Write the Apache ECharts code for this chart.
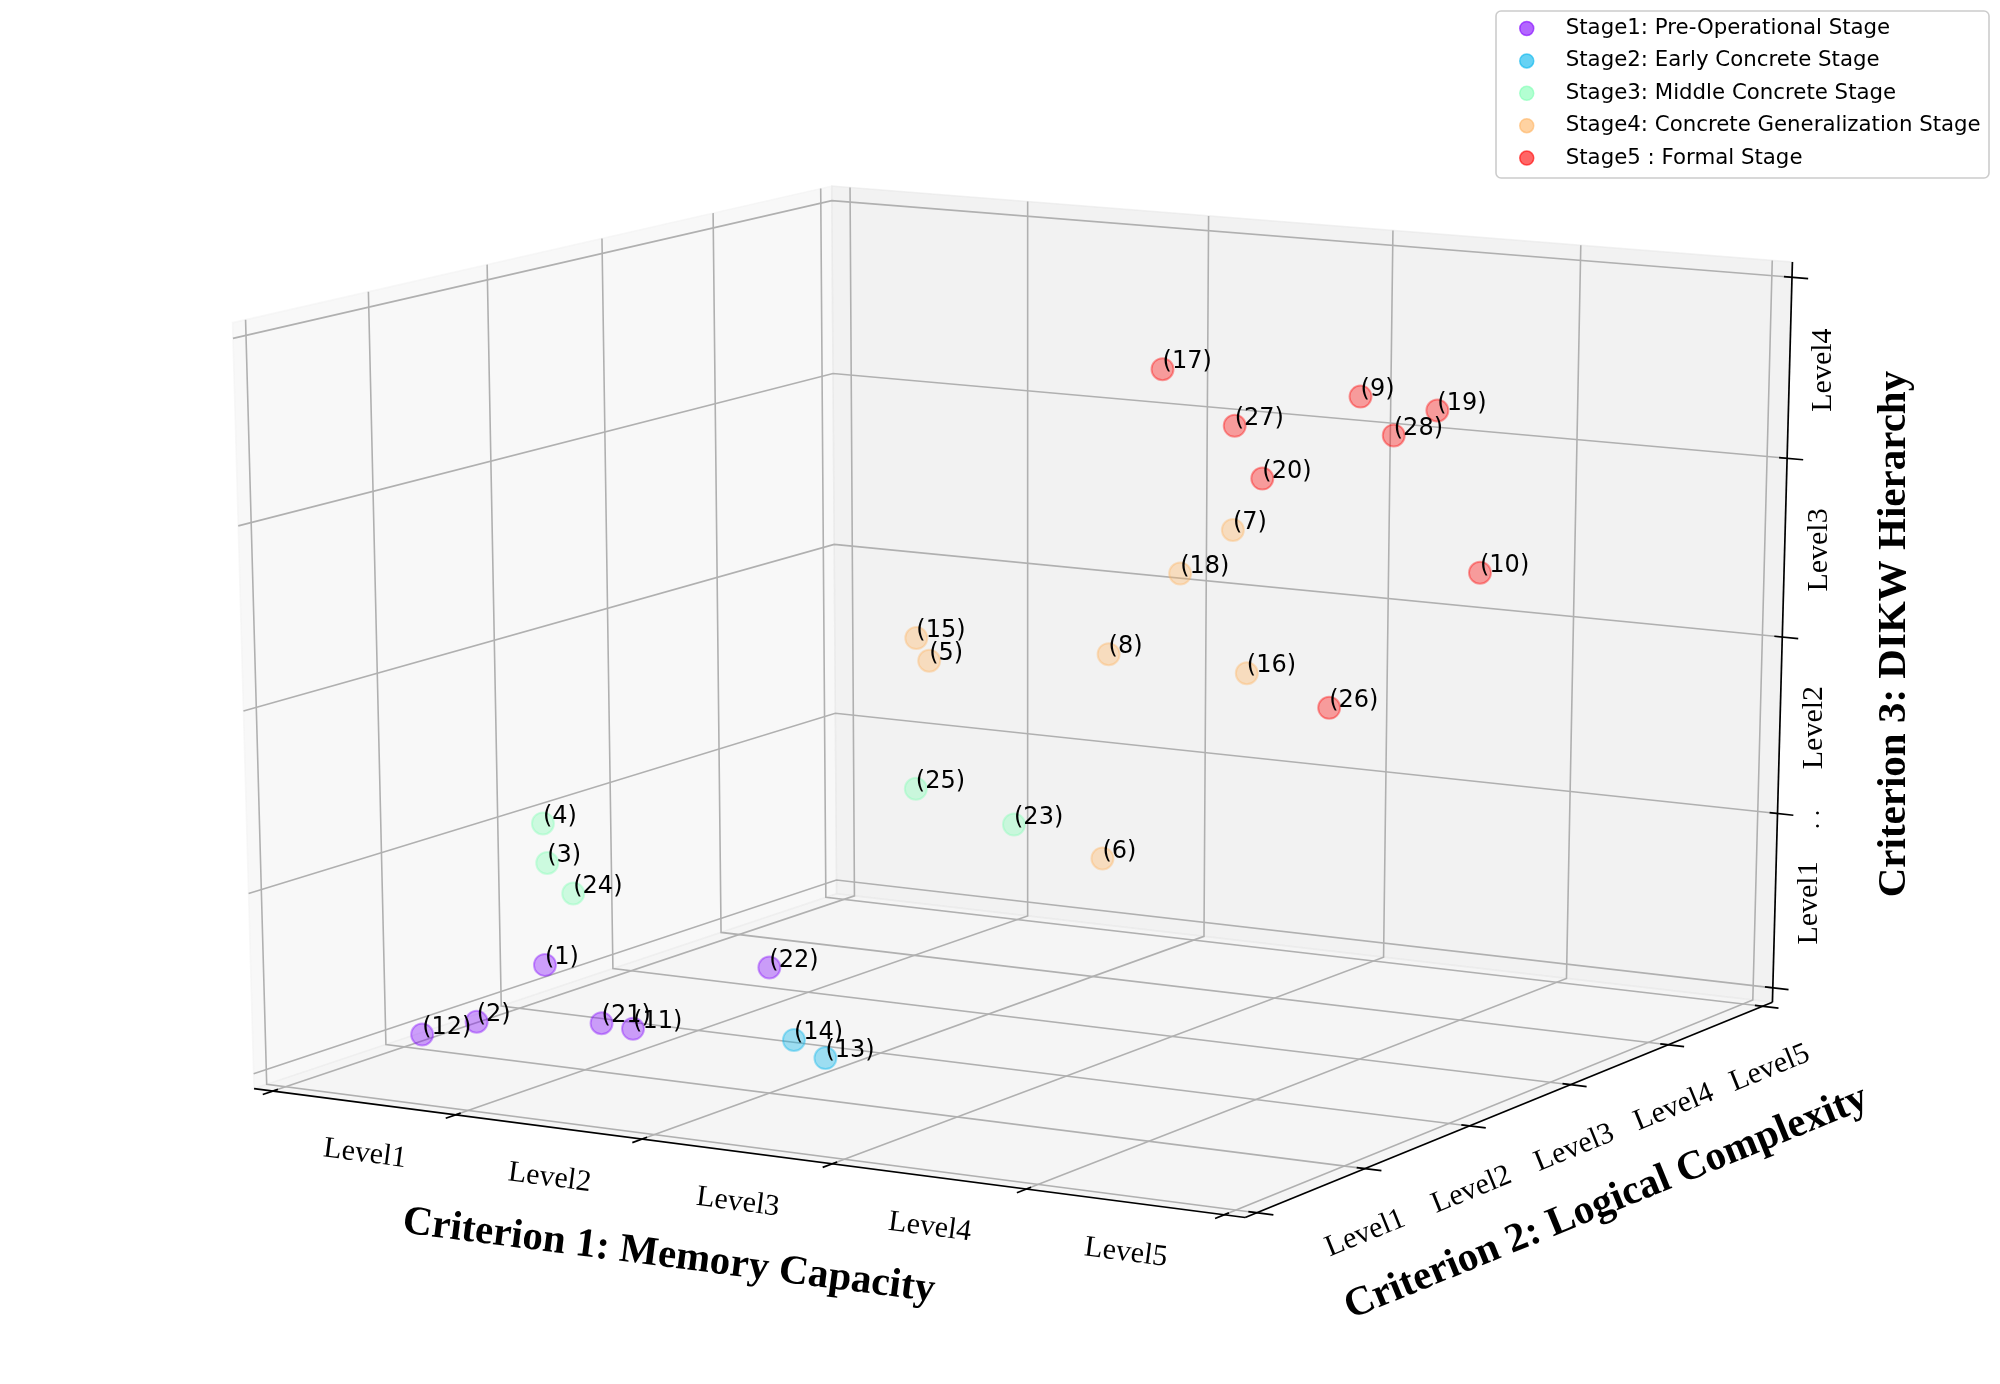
<!DOCTYPE html>
<html>
<head>
<meta charset="utf-8">
<script src="https://cdn.jsdelivr.net/npm/echarts/dist/echarts.min.js"></script>
<style>
  html, body { margin: 0; padding: 0; background: #fff; }
  #chart { width: 2000px; height: 1384px; }
</style>
</head>
<body>
<div id="chart"></div>
<script>
'use strict';

// tick labels and tick values of the three criteria
const memoryLevels = ['Level1', 'Level2', 'Level3', 'Level4', 'Level5'];
const logicLevels = ['Level1', 'Level2', 'Level3', 'Level4', 'Level5'];
const dikwLevels = ['Level1', 'Level2', 'Level3', 'Level4'];
const memoryTicks = [0, 1, 2, 3, 4, 5];
const logicTicks = [0, 1, 2, 3, 4, 5];
const dikwTicks = [0, 1, 2, 3, 4];

const stageNames = [
  'Stage1: Pre-Operational Stage',
  'Stage2: Early Concrete Stage',
  'Stage3: Middle Concrete Stage',
  'Stage4: Concrete Generalization Stage',
  'Stage5 : Formal Stage'
];
const stageColors = ['#8000ff', '#00b4ec', '#80ffb4', '#ffb462', '#ff0000'];

// [memory, logic, dikw, id]
const stage1 = [[0.66, 1.2, 0.42, 1], [0.21, 1.3, 0.02, 2], [0.95, 1.5, 0.03, 11],
                [0.10, 1.0, 0.00, 12], [0.84, 1.4, 0.07, 21], [1.70, 1.5, 0.47, 22]];
const stage2 = [[2.06, 1.4, 0.03, 13], [1.83, 1.5, 0.08, 14]];
const stage3 = [[0.49, 1.5, 0.91, 3], [0.47, 1.5, 1.13, 4], [2.43, 2.5, 1.15, 23],
                [0.44, 1.8, 0.67, 24], [1.90, 2.5, 1.29, 25]];
const stage4 = [[1.68, 3.0, 1.89, 5], [2.62, 3.0, 0.88, 6], [3.03, 3.5, 2.67, 7],
                [2.65, 3.0, 2.03, 8], [1.61, 3.0, 2.01, 15], [3.11, 3.5, 1.88, 16],
                [2.75, 3.5, 2.40, 18]];
const stage5 = [[3.16, 4.5, 3.26, 9], [4.07, 4.0, 2.45, 10], [2.37, 4.0, 3.42, 17],
                [3.57, 4.5, 3.22, 19], [2.91, 4.0, 2.86, 20], [3.28, 4.0, 1.61, 26],
                [2.76, 4.0, 3.14, 27], [3.34, 4.5, 3.06, 28]];
const stages = [stage1, stage2, stage3, stage4, stage5];

// camera like matplotlib mplot3d (elev 15, azim -60, dist 10)
const ELEV = 15, AZIM = -60, DIST = 10;
const LIM = { x: [0, 5], y: [0, 5], z: [0, 4] };
const VIEW_X = [-0.095, 0.09], VIEW_Y = [-0.095, 0.09];

const deg = Math.PI / 180;
const el = ELEV * deg, az = AZIM * deg;
const U = [-Math.sin(az), Math.cos(az), 0];
const V = [-Math.sin(el) * Math.cos(az), -Math.sin(el) * Math.sin(az), Math.cos(el)];
const N = [Math.cos(az) * Math.cos(el), Math.sin(az) * Math.cos(el), Math.sin(el)];

function project(p) {
  const q = [
    (p[0] - LIM.x[0]) / (LIM.x[1] - LIM.x[0]) - 0.5,
    (p[1] - LIM.y[0]) / (LIM.y[1] - LIM.y[0]) - 0.5,
    (p[2] - LIM.z[0]) / (LIM.z[1] - LIM.z[0]) - 0.5
  ];
  const dot = w => w[0] * q[0] + w[1] * q[1] + w[2] * q[2];
  const depth = dot(N);
  return [dot(U) / (DIST - depth), dot(V) / (DIST - depth), depth];
}

// box drawn a bit larger than the limits (range / 48 each side)
const pad = r => (r[1] - r[0]) / 48;
const B = {
  x: [LIM.x[0] - pad(LIM.x), LIM.x[1] + pad(LIM.x)],
  y: [LIM.y[0] - pad(LIM.y), LIM.y[1] + pad(LIM.y)],
  z: [LIM.z[0] - pad(LIM.z), LIM.z[1] + pad(LIM.z)]
};
const dX = (LIM.x[1] - LIM.x[0]) / 12, dY = (LIM.y[1] - LIM.y[0]) / 12;

function rgba(hex, a) {
  const n = parseInt(hex.slice(1), 16);
  return 'rgba(' + (n >> 16) + ',' + ((n >> 8) & 255) + ',' + (n & 255) + ',' + a + ')';
}

// panes
const panes = [
  { pts: [[B.x[0], B.y[0], B.z[0]], [B.x[0], B.y[1], B.z[0]], [B.x[0], B.y[1], B.z[1]], [B.x[0], B.y[0], B.z[1]]], c: 'rgba(242,242,242,0.5)' },
  { pts: [[B.x[0], B.y[1], B.z[0]], [B.x[1], B.y[1], B.z[0]], [B.x[1], B.y[1], B.z[1]], [B.x[0], B.y[1], B.z[1]]], c: 'rgba(230,230,230,0.5)' },
  { pts: [[B.x[0], B.y[0], B.z[0]], [B.x[1], B.y[0], B.z[0]], [B.x[1], B.y[1], B.z[0]], [B.x[0], B.y[1], B.z[0]]], c: 'rgba(236,236,236,0.5)' }
];

// grid lines, axis lines and ticks
const GRID = { stroke: '#b0b0b0', lineWidth: 1.6 };
const AXIS = { stroke: '#000', lineWidth: 1.7 };
const lines = [];
memoryTicks.forEach(t => lines.push({ pts: [[t, B.y[0], B.z[0]], [t, B.y[1], B.z[0]], [t, B.y[1], B.z[1]]], s: GRID }));
logicTicks.forEach(t => lines.push({ pts: [[B.x[0], t, B.z[1]], [B.x[0], t, B.z[0]], [B.x[1], t, B.z[0]]], s: GRID }));
dikwTicks.forEach(t => lines.push({ pts: [[B.x[1], B.y[1], t], [B.x[0], B.y[1], t], [B.x[0], B.y[0], t]], s: GRID }));
lines.push({ pts: [[B.x[0], B.y[0], B.z[0]], [B.x[1], B.y[0], B.z[0]]], s: AXIS });
lines.push({ pts: [[B.x[1], B.y[0], B.z[0]], [B.x[1], B.y[1], B.z[0]]], s: AXIS });
lines.push({ pts: [[B.x[1], B.y[1], B.z[0]], [B.x[1], B.y[1], B.z[1]]], s: AXIS });
memoryTicks.forEach(t => lines.push({ pts: [[t, B.y[0] - 0.2 * dY, B.z[0]], [t, B.y[0] + 0.1 * dY, B.z[0]]], s: AXIS }));
logicTicks.forEach(t => lines.push({ pts: [[B.x[1] + 0.2 * dX, t, B.z[0]], [B.x[1] - 0.1 * dX, t, B.z[0]]], s: AXIS }));
dikwTicks.forEach(t => lines.push({ pts: [[B.x[1] + 0.2 * dX, B.y[1], t], [B.x[1] - 0.1 * dX, B.y[1], t]], s: AXIS }));

// axis directions, used for text rotation
const axisDir = {
  x: [[B.x[0], B.y[0], B.z[0]], [B.x[1], B.y[0], B.z[0]]],
  y: [[B.x[1], B.y[0], B.z[0]], [B.x[1], B.y[1], B.z[0]]],
  z: 'vertical'
};

const TICK_FONT = { fontFamily: 'Liberation Serif', fontSize: 30, fontWeight: 'normal' };
const TITLE_FONT = { fontFamily: 'Liberation Serif', fontSize: 41, fontWeight: 'bold' };
const texts = [];
memoryLevels.forEach((t, i) => texts.push({ at: [i + 0.5, B.y[0], B.z[0]], off: [1, 51], text: t, rot: 'x', f: TICK_FONT }));
logicLevels.forEach((t, i) => texts.push({ at: [B.x[1], i + 0.5, B.z[0]], off: [54, 43], text: t, rot: 'y', f: TICK_FONT }));
dikwLevels.forEach((t, i) => texts.push({ at: [B.x[1], B.y[1], i + 0.5], off: [34, 2], text: t, rot: 'z', f: TICK_FONT }));
texts.push({ at: [B.x[1], B.y[1], 1], off: [35, 6], text: '. .', rot: 'z', f: { fontFamily: 'Liberation Serif', fontSize: 26 } });
texts.push({ at: [2.5, B.y[0], B.z[0]], off: [-68, 105], text: 'Criterion 1: Memory Capacity', rot: 'x', f: TITLE_FONT });
texts.push({ at: [B.x[1], 2.5, B.z[0]], off: [86, 98], text: 'Criterion 2: Logical Complexity', rot: 'y', f: TITLE_FONT });
texts.push({ at: [B.x[1], B.y[1], 2], off: [112, -3], text: 'Criterion 3: DIKW Hierarchy', rot: 'z', f: TITLE_FONT });

function xy(p) { const q = project(p); return [q[0], q[1]]; }
const dummy = arr => arr.map(() => [0, 0]);

const chart = echarts.init(document.getElementById('chart'));

const scatterSeries = stages.map((pts, i) => ({
  type: 'scatter',
  name: stageNames[i],
  z: 5,
  symbol: 'circle',
  symbolSize: 22,
  itemStyle: { color: rgba(stageColors[i], 0.36), borderColor: rgba(stageColors[i], 0.36), borderWidth: 2, opacity: 1 },
  label: {
    show: true,
    formatter: p => '(' + p.value[2] + ')',
    position: ['50%', '50%'],
    align: 'left',
    verticalAlign: 'middle',
    offset: [0, -7],
    fontFamily: 'DejaVu Sans',
    fontSize: 24,
    color: '#000'
  },
  emphasis: { disabled: true },
  data: pts
    .map(p => { const q = project(p); return [q[0], q[1], p[3], q[2]]; })
    .sort((a, b) => a[3] - b[3])
}));

chart.setOption({
  animation: false,
  backgroundColor: '#fff',
  grid: { left: 0, right: 0, top: 0, bottom: 0 },
  xAxis: { type: 'value', min: VIEW_X[0], max: VIEW_X[1], show: false },
  yAxis: { type: 'value', min: VIEW_Y[0], max: VIEW_Y[1], show: false },
  legend: {
    orient: 'vertical',
    left: 1519,
    top: 18,
    padding: 0,
    itemGap: 11.4,
    itemWidth: 14,
    itemHeight: 14,
    icon: 'circle',
    selectedMode: false,
    textStyle: { fontFamily: 'DejaVu Sans', fontSize: 21.3, color: '#000', lineHeight: 21, padding: [0, 0, 0, 27] },
    data: stageNames.map((n, i) => ({
      name: n,
      itemStyle: { color: rgba(stageColors[i], 0.6), borderColor: rgba(stageColors[i], 0.6), borderWidth: 1.5, opacity: 1 }
    }))
  },
  graphic: [{
    type: 'rect',
    shape: { x: 1496, y: 11, width: 493, height: 167, r: 5 },
    style: { fill: 'rgba(255,255,255,0.8)', stroke: '#cccccc', lineWidth: 1.6 },
    z: 0,
    silent: true
  }],
  series: [
    {
      type: 'custom', z: 1, silent: true, data: dummy(panes),
      renderItem: (params, api) => {
        const pn = panes[params.dataIndex];
        return {
          type: 'polygon',
          shape: { points: pn.pts.map(p => api.coord(xy(p))) },
          style: { fill: pn.c, stroke: pn.c, lineWidth: 1.5 }
        };
      }
    },
    {
      type: 'custom', z: 2, silent: true, data: dummy(lines),
      renderItem: (params, api) => {
        const ln = lines[params.dataIndex];
        return {
          type: 'polyline',
          shape: { points: ln.pts.map(p => api.coord(xy(p))) },
          style: { fill: null, stroke: ln.s.stroke, lineWidth: ln.s.lineWidth }
        };
      }
    },
    {
      type: 'custom', z: 3, silent: true, data: dummy(texts),
      renderItem: (params, api) => {
        const t = texts[params.dataIndex];
        const c = api.coord(xy(t.at));
        let rot = Math.PI / 2;
        if (t.rot !== 'z') {
          const a = api.coord(xy(axisDir[t.rot][0]));
          const b = api.coord(xy(axisDir[t.rot][1]));
          rot = -Math.atan2(b[1] - a[1], b[0] - a[0]);
        }
        return {
          type: 'text',
          x: c[0] + t.off[0],
          y: c[1] + t.off[1],
          rotation: rot,
          style: {
            text: t.text,
            fontFamily: t.f.fontFamily,
            fontSize: t.f.fontSize,
            fontWeight: t.f.fontWeight || 'normal',
            fill: '#000',
            align: 'center',
            verticalAlign: 'middle'
          }
        };
      }
    }
  ].concat(scatterSeries)
});
</script>
</body>
</html>
